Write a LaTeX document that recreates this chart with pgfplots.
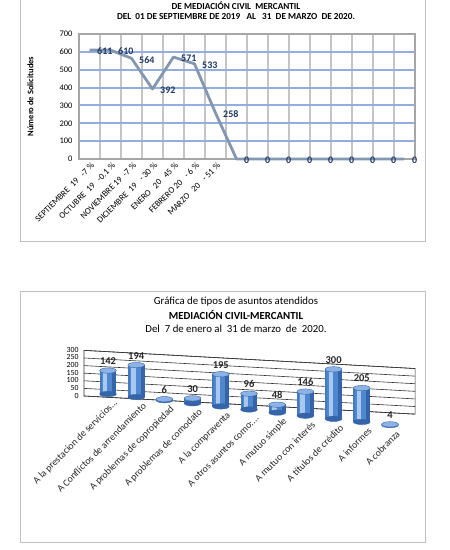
\documentclass[border=0pt]{standalone}
\usepackage{fontspec}
\setmainfont{Carlito}
\usepackage{pgfplots}
\usepackage{pgfplotstable}
\pgfplotsset{compat=1.18}
\definecolor{navy}{HTML}{1F3864}
\definecolor{linec}{HTML}{8497B0}
\definecolor{gridb}{HTML}{93ADE0}
\definecolor{gridg}{HTML}{A6A6A6}
\definecolor{gridv}{HTML}{C4C4C4}
\definecolor{framec}{HTML}{BFBFBF}
\definecolor{barL}{HTML}{4F87D0}
\definecolor{barM}{HTML}{A9C8EE}
\definecolor{barR}{HTML}{3565A8}
\definecolor{barT}{HTML}{8DB3E6}
\definecolor{lab}{HTML}{262626}
\newcommand{\dd}{.\kern0pt.\kern0pt.}
\pgfplotstableread{
x y v
0 0 142
1 0 194
2 0 6
3 0 30
4 0 195
5 0 96
6 0 48
7 0 146
8 0 300
9 0 205
10 0 4
}\bardata
\begin{document}
\begin{tikzpicture}[x=1pt,y=1pt]
% frames
\draw[framec, line width=0.8pt] (20,560) -- (20,309) -- (425,309) -- (425,560);
\draw[framec, line width=0.8pt] (20,259) rectangle (425,8);
% top titles
\node[font=\bfseries\fontsize{9.2}{10}\selectfont] at (236,544) {DE MEDIACIÓN CIVIL\ \ MERCANTIL};
\node[font=\bfseries\fontsize{9.2}{10}\selectfont] at (236,533) {DEL\ \ 01 DE SEPTIEMBRE DE 2019\ \ \ AL\ \ \ 31\ \ DE MARZO\ \ DE 2020.};
% bottom titles
\node[font=\fontsize{10.8}{12}\selectfont] at (236,248.3) {Gráfica de tipos de asuntos atendidos};
\node[font=\bfseries\fontsize{10.8}{12}\selectfont] at (236,235) {MEDIACIÓN CIVIL-MERCANTIL};
\node[font=\fontsize{10.8}{12}\selectfont] at (236,221.7) {Del\ \ 7 de enero al\ \ 31 de marzo\ \ de\ \ 2020.};

% ---------- top line chart ----------
\begin{axis}[
  at={(79pt,391pt)}, anchor=south west, scale only axis,
  width=336pt, height=125pt,
  xmin=0.5, xmax=16.5, ymin=0, ymax=700,
  ytick={0,100,200,300,400,500,600,700},
  xtick={0.5,1.5,2.5,3.5,4.5,5.5,6.5,7.5,8.5,9.5,10.5,11.5,12.5,13.5,14.5,15.5,16.5},
  xticklabels={},
  extra x ticks={1,2,3,4,5,6,7},
  extra x tick labels={{SEPTIEMBRE\hspace{4pt}19\hspace{6pt}-7 \%},{OCTUBRE\hspace{4pt}19\hspace{6pt}-0.1 \%},{NOVIEMBRE 19\hspace{4pt}-7 \%},{DICIEMBRE\hspace{4pt}19\hspace{6pt}- 30 \%},{ENERO\hspace{6pt}20\hspace{6pt}45 \%},{FEBRERO 20\hspace{6pt}- 6 \%},{MARZO\hspace{6pt}20\hspace{6pt}- 51 \%}},
  extra x tick style={grid=none, major tick length=0pt},
  xmajorgrids, ymajorgrids,
  grid style={line width=2pt},
  x grid style={gridv, line width=2pt},
  y grid style={gridb, line width=2pt},
  axis line style={gridg, line width=1.6pt},
  major tick length=0pt, minor tick length=0pt,
  /pgf/number format/assume math mode=true,
  yticklabel style={font=\fontsize{8.5}{9}\selectfont, xshift=-3pt},
  xticklabel style={font=\fontsize{8.8}{9}\selectfont, rotate=45, anchor=east, xshift=2pt, yshift=-6pt},
  ylabel={Número de Solicitudes},
  ylabel style={font=\bfseries\fontsize{8.5}{9}\selectfont, at={(axis description cs:-0.125,0.5)}, rotate=0},
  clip=false,
]
\addplot[linec, line width=2.8pt, line join=round,
  nodes near coords,
  nodes near coords style={font=\bfseries\fontsize{10}{12}\selectfont, text=navy, anchor=west, xshift=3pt, yshift=-1.5pt}]
coordinates {(1,611) (2,610) (3,564) (4,392) (5,571) (6,533) (7,258) (8,0) (9,0) (10,0) (11,0) (12,0) (13,0) (14,0) (15,0) (16,0)};
\end{axis}

% ---------- bottom chart: back wall ----------
\begin{axis}[
  at={(99.05pt,153.2pt)}, anchor=origin,
  x={(30.1pt,-1.65pt)}, y={(0pt,0.152pt)},
  xmin=-0.5, xmax=10.5, ymin=0, ymax=300,
  ytick={0,50,100,150,200,250,300}, xtick=\empty,
  ymajorgrids,
  major grid style={black!80, line width=0.6pt},
  axis line style={black!80, line width=0.6pt},
  major tick length=0pt,
  /pgf/number format/assume math mode=true,
  yticklabel style={font=\fontsize{7.8}{8}\selectfont, xshift=-2pt},
]
\end{axis}

% ---------- bottom chart: bars ----------
\begin{axis}[
  at={(108pt,156pt)}, anchor=origin,
  x={(28.2pt,-3.1pt)}, y={(0pt,0.165pt)},
  xmin=-0.5, xmax=10.5, ymin=0, ymax=300,
  axis line style={draw=none},
  ytick=\empty, xtick={0,1,2,3,4,5,6,7,8,9,10},
  xticklabels={{A la prestacion de servicios\dd},{A Conflictos de arrendamiento},{A problemas de copropiedad},{A problemas de comodato},{A la compraventa},{A otros asuntos como:\dd},{A mutuo simple},{A mutuo con interés},{A títulos de crédito},{A informes},{A cobranza}},
  major tick length=0pt,
  /pgf/number format/assume math mode=true,
  xticklabel style={font=\fontsize{9.8}{10}\selectfont, rotate=45, anchor=east, xshift=4pt, yshift=-11pt, text=lab},
  clip=false,
]
% bottom ellipses
\addplot[only marks, mark=*, mark size=8.4pt, mark options={yscale=0.32, fill=barR, draw=barR}]
  table[x=x,y=y] {\bardata};
% cylinder bodies
\addplot[quiver={u=0,v=\thisrow{v}}, draw=barL, line width=16.8pt] table[x=x,y=y] {\bardata};
\addplot[quiver={u=0,v=\thisrow{v}}, draw=barR, line width=4pt, xshift=6.4pt] table[x=x,y=y] {\bardata};
\addplot[quiver={u=0,v=\thisrow{v}}, draw=barL!60!barR, line width=2pt, xshift=-7.4pt] table[x=x,y=y] {\bardata};
\addplot[quiver={u=0,v=\thisrow{v}}, draw=barM, line width=4.5pt, xshift=-2.8pt] table[x=x,y=y] {\bardata};
% tops with labels
\addplot[only marks, mark=*, mark size=8.4pt, mark options={yscale=0.32, fill=barT, draw=barR},
  nodes near coords,
  nodes near coords style={font=\bfseries\fontsize{10.5}{12}\selectfont, text=lab, anchor=south, yshift=2.5pt}]
  table[x=x,y=v] {\bardata};
\end{axis}

\pgfresetboundingbox
\useasboundingbox (0,0) rectangle (450,550);
\end{tikzpicture}
\end{document}
